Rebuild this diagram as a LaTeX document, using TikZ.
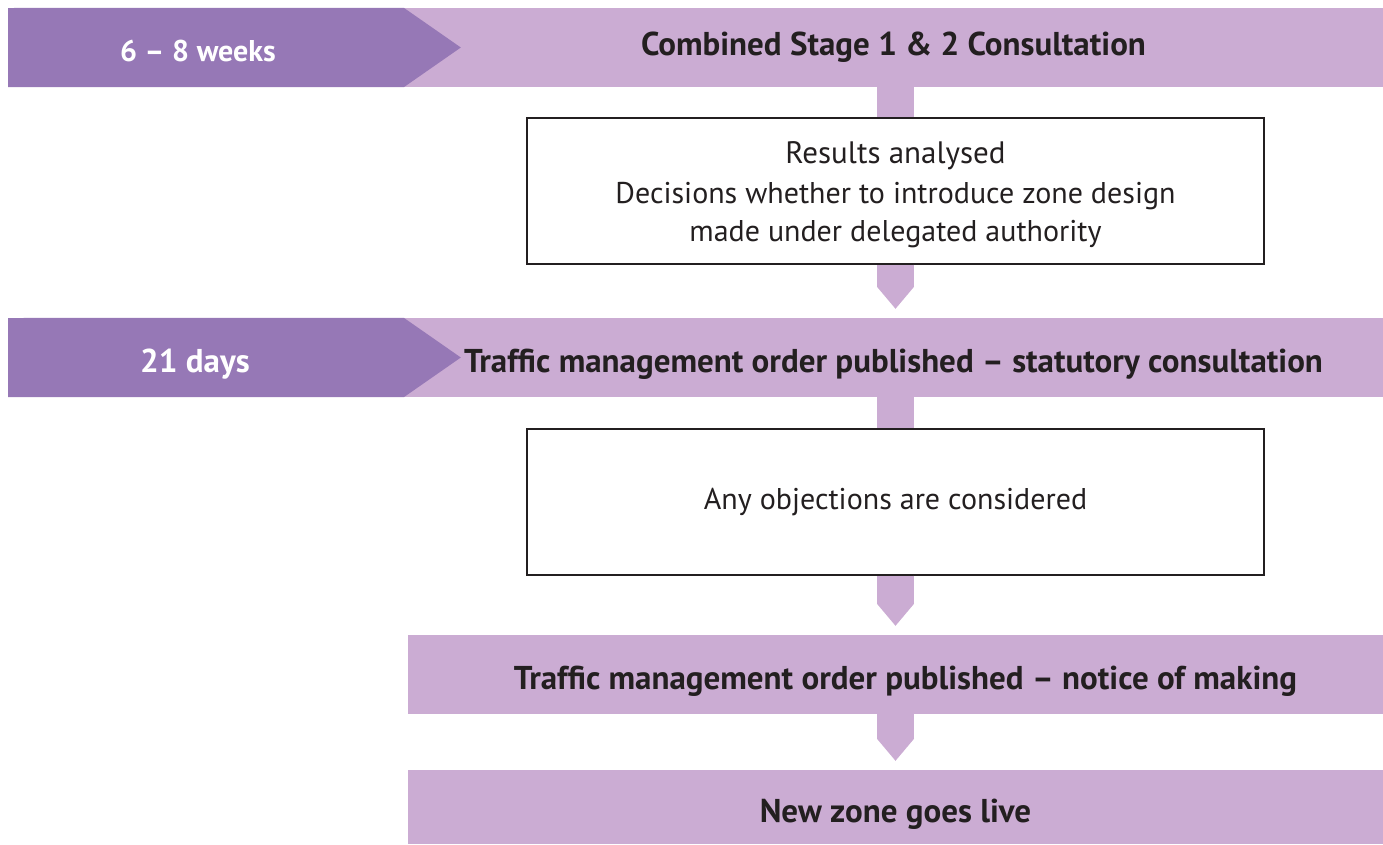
\documentclass[tikz,border=0pt]{standalone}
\usepackage{fontspec}
\setmainfont{PT Sans}
\usetikzlibrary{arrows.meta,positioning,calc}
\definecolor{TagPurple}{HTML}{9678B6}
\definecolor{BarLilac}{HTML}{CBACD3}
\definecolor{InkGrey}{HTML}{231F20}
\tikzset{
    bar/.style = {fill=BarLilac, inner sep=0pt,
        minimum height=79pt, text=InkGrey,
        text height=29pt, text depth=0pt,
        font=\fontsize{33}{36}\selectfont\bfseries},
    box/.style = {draw=InkGrey, fill=white, line width=1.2pt,
        minimum width=737pt, minimum height=146pt,
        align=center, text=InkGrey,
        font=\fontsize{30}{38}\selectfont},
    tag/.style = {text=white, inner sep=0pt, anchor=base,
        font=\fontsize{33}{36}\selectfont\bfseries},
    stem/.style = {draw=BarLilac, line width=37pt},
    drop/.style = {stem, shorten >=9pt,
        -{Triangle[length=22pt,width=37pt,line width=0pt]}}
}

\begin{document}
\begin{tikzpicture}[x=1pt,y=-1pt]
    \useasboundingbox (0,0) rectangle (1383,844);
    % phase bars
    \node [bar, minimum width=979pt, text height=15pt] (bar1) at (893.5,47.5) {Combined Stage 1 \& 2 Consultation};
    \node [bar, minimum width=979pt] (bar2) at (893.5,357.5) {Traffic management order published -- statutory consultation};
    \node [bar, minimum width=975pt] (bar3) at (895.5,674.5) {\hspace*{20pt}Traffic management order published -- notice of making};
    \node [bar, minimum width=975pt, minimum height=74pt, text height=31pt] (bar4) at (895.5,807) {New zone goes live};
    % duration tags
    \fill [TagPurple] (8,8) -- (bar1.north west) -- ($(bar1.west)+(57,0)$) -- (bar1.south west) -- (8,87) -- cycle;
    \fill [TagPurple] (8,318) -- (bar2.north west) -- ($(bar2.west)+(57,0)$) -- (bar2.south west) -- (8,397) -- cycle;
    \node [tag, font=\fontsize{30}{34}\selectfont\bfseries] (wk1) at (198,61) {6 -- 8 weeks};
    \node [tag] (wk2) at (195,372) {21 days};
    % decision boxes
    \node [box] (box1) at (895.5,191) {{\fontsize{31}{38}\selectfont\rule{0pt}{30pt}Results analysed}\\[2pt]
        Decisions whether to introduce zone design\\
        made under delegated authority};
    \node [box] (box2) at (895.5,502) {Any objections are considered};
    % connectors
    \draw [stem] (bar1.south -| box1.north) -- (box1.north);
    \draw [stem] (bar2.south -| box2.north) -- (box2.north);
    \draw [drop] (box1.south) -- (box1.south |- bar2.north);
    \draw [drop] (box2.south) -- (box2.south |- bar3.north);
    \draw [drop] (bar3.south -| box2.south) -- (bar4.north -| box2.south);
\end{tikzpicture}
\end{document}
